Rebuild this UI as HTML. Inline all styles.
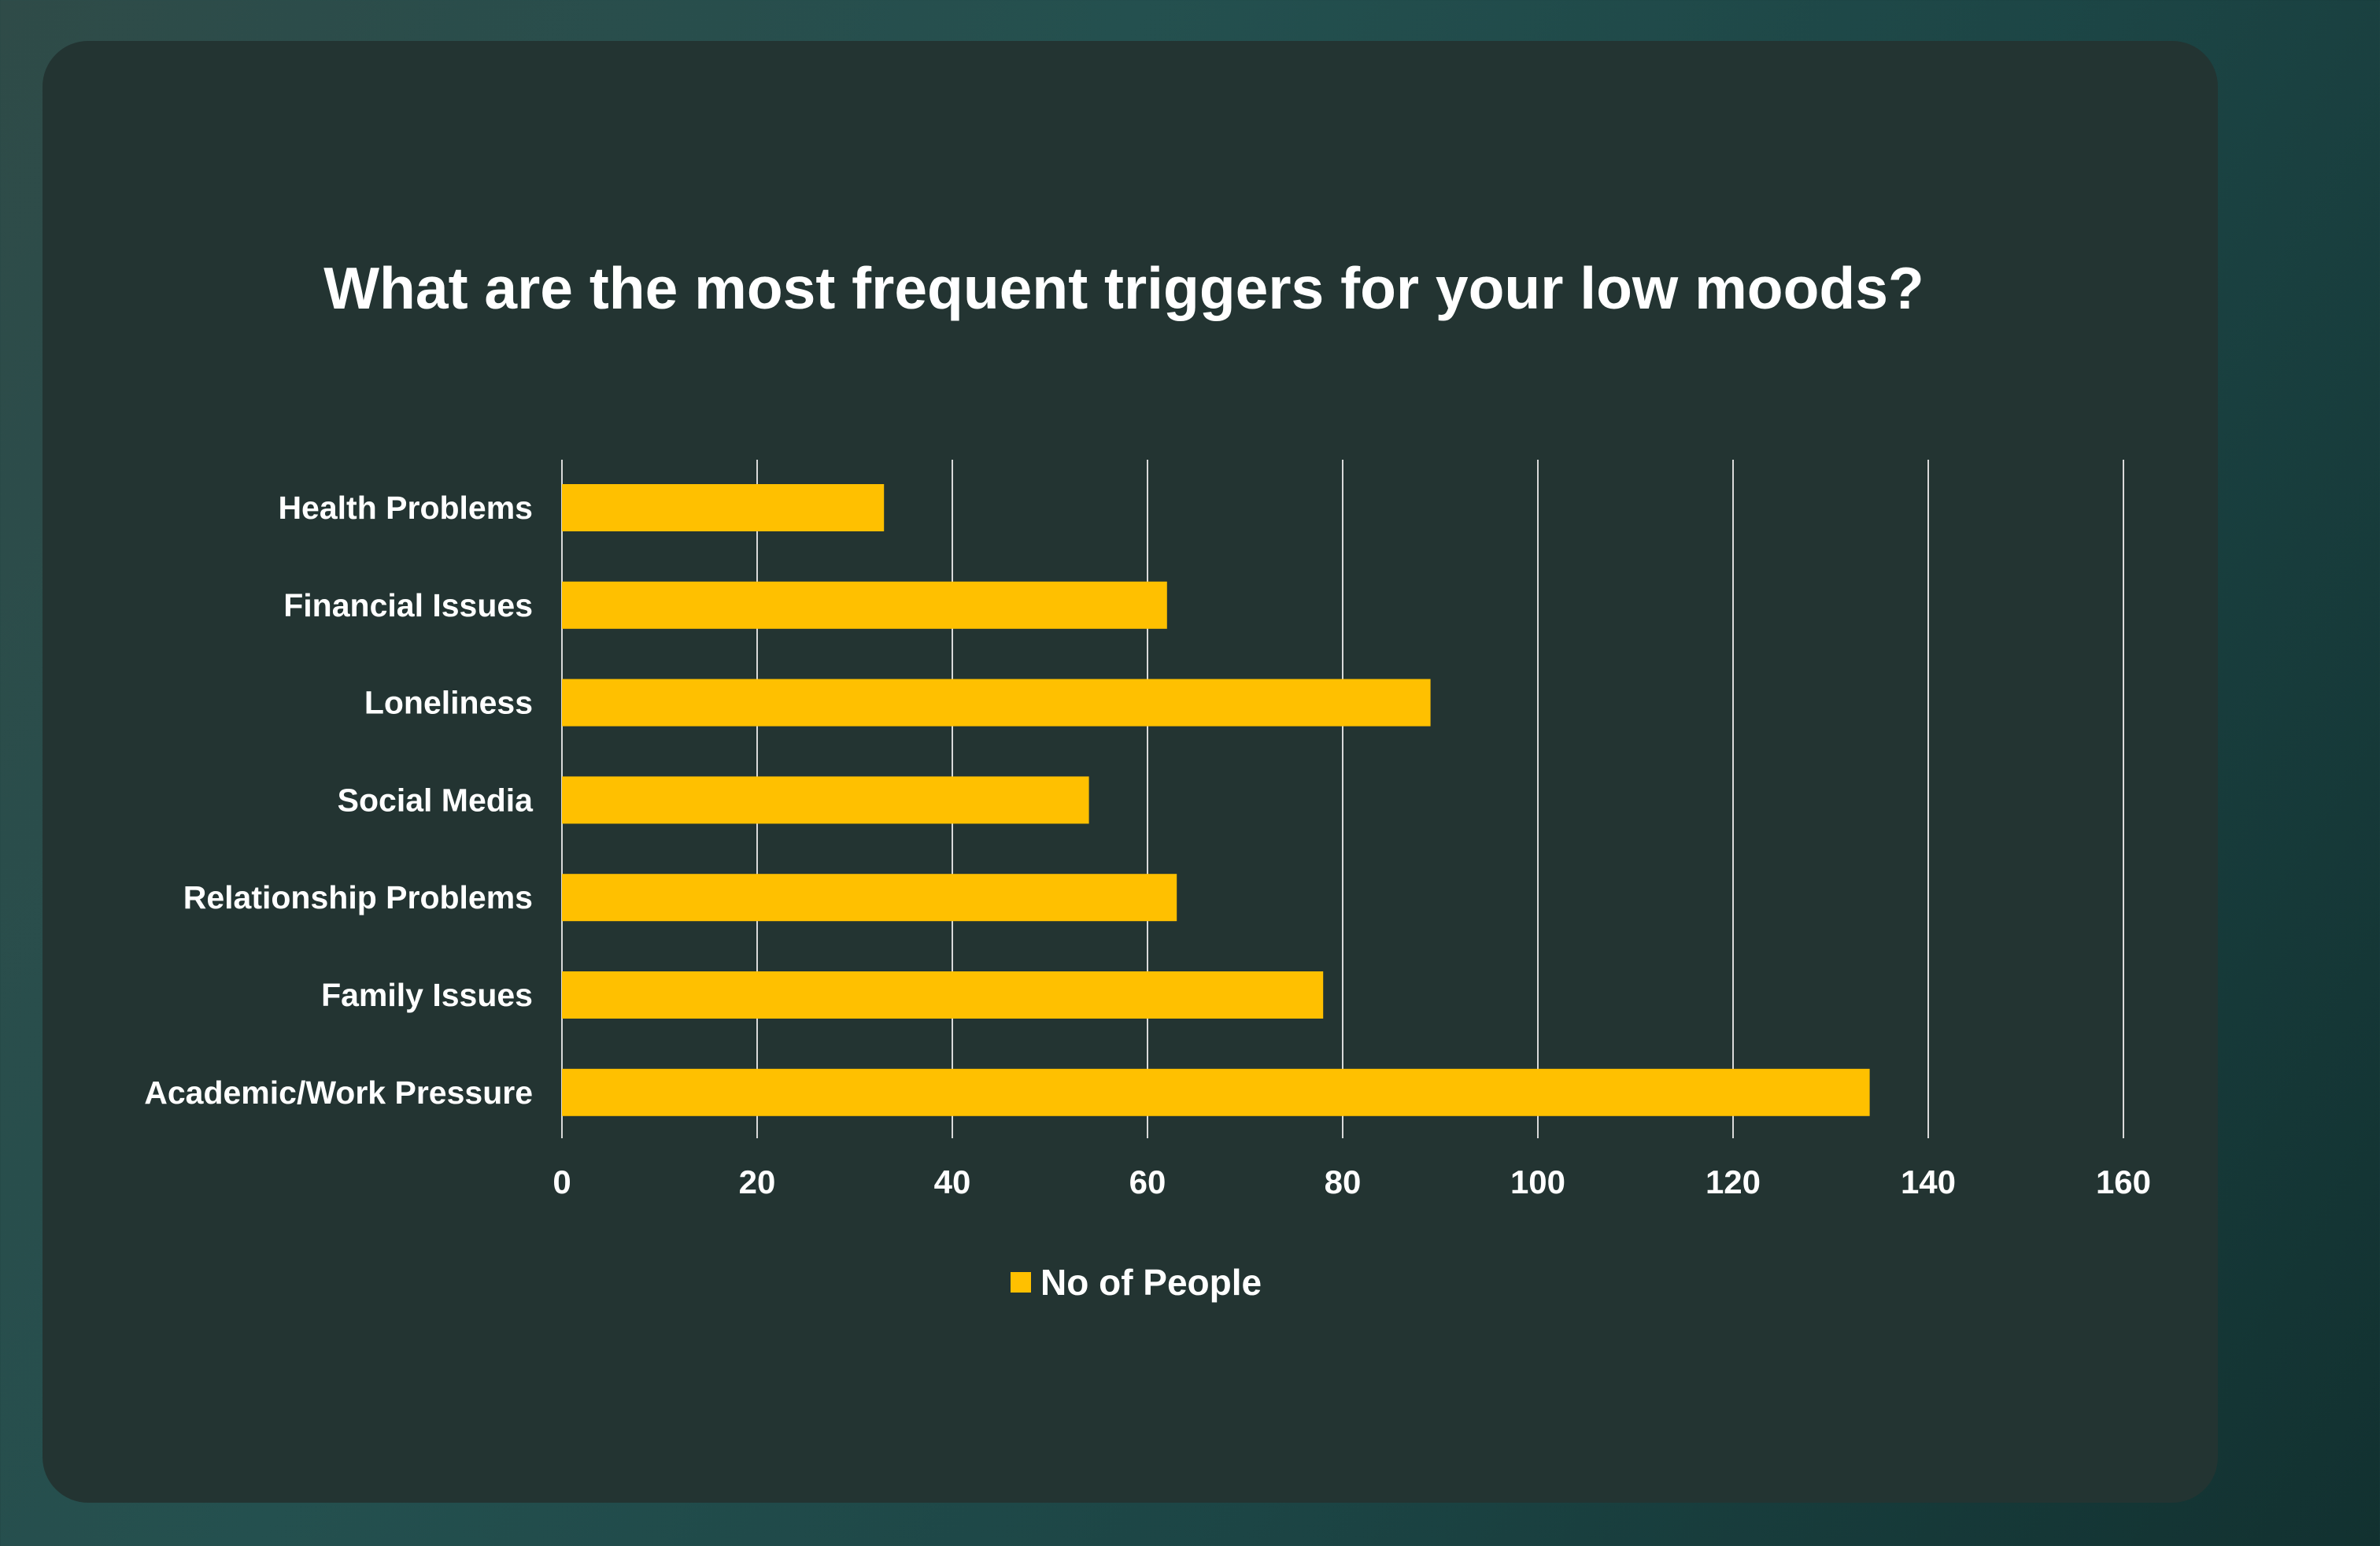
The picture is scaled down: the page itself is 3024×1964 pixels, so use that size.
<!DOCTYPE html>
<html><head><meta charset="utf-8"><style>
html,body{margin:0;padding:0;width:3024px;height:1964px;overflow:hidden;}
body{background:linear-gradient(120deg,#2f4b48 0%,#24504f 35%,#1c4545 65%,#123130 100%);font-family:"Liberation Sans",sans-serif;}
</style></head><body>
<svg width="3024" height="1964" xmlns="http://www.w3.org/2000/svg" id="chart">
<rect x="54" y="52" width="2764" height="1857" rx="58" fill="#233432"/>
<text x="1428" y="392" text-anchor="middle" font-family="Liberation Sans, sans-serif" font-weight="bold" font-size="75" fill="#ffffff">What are the most frequent triggers for your low moods?</text>
<g id="grid"></g><g id="bars"></g><g id="labels"></g>
<rect x="1284" y="1616" width="26" height="26" fill="#ffc000"/>
<text x="1322" y="1645" font-family="Liberation Sans, sans-serif" font-weight="bold" font-size="46" fill="#ffffff">No of People</text>
</svg>
<script>
const categories = ["Health Problems","Financial Issues","Loneliness","Social Media","Relationship Problems","Family Issues","Academic/Work Pressure"];
const values = [33,62,89,54,63,78,134];
const ticks = [0,20,40,60,80,100,120,140,160];
const NS="http://www.w3.org/2000/svg";
const x0=714,x1=2698,maxV=160,yTop=584,yBottom=1446,firstBar=615,step=123.8,bh=60;
const xs=v=>x0+(x1-x0)*v/maxV;
const g=document.getElementById('grid'),b=document.getElementById('bars'),l=document.getElementById('labels');
ticks.forEach(t=>{
  const ln=document.createElementNS(NS,'line');
  ln.setAttribute('x1',xs(t));ln.setAttribute('x2',xs(t));ln.setAttribute('y1',yTop);ln.setAttribute('y2',yBottom);
  ln.setAttribute('stroke','#d9d9d9');ln.setAttribute('stroke-width','2');
  
  
  g.appendChild(ln);
  const tx=document.createElementNS(NS,'text');
  tx.setAttribute('x',xs(t));tx.setAttribute('y',1516);tx.setAttribute('text-anchor','middle');
  tx.setAttribute('font-size','42');tx.setAttribute('font-weight','bold');tx.setAttribute('fill','#fff');
  tx.setAttribute('font-family','Liberation Sans, sans-serif');
  tx.textContent=t;
  
  
  l.appendChild(tx);
});
categories.forEach((c,i)=>{
  const y=firstBar+i*step;
  const r=document.createElementNS(NS,'rect');
  r.setAttribute('x',xs(0));r.setAttribute('y',y);r.setAttribute('width',xs(values[i])-xs(0));r.setAttribute('height',bh);
  r.setAttribute('fill','#ffc000');
  
  
  b.appendChild(r);
  const tx=document.createElementNS(NS,'text');
  tx.setAttribute('x',677);tx.setAttribute('y',y+bh/2+14);tx.setAttribute('text-anchor','end');
  tx.setAttribute('font-size','41');tx.setAttribute('font-weight','bold');tx.setAttribute('fill','#fff');
  tx.setAttribute('font-family','Liberation Sans, sans-serif');
  tx.textContent=c;
  
  
  l.appendChild(tx);
});
</script>
</body></html>
